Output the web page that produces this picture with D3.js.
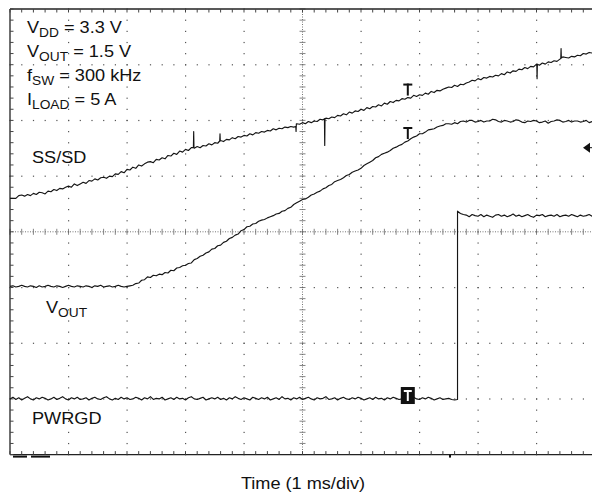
<!DOCTYPE html>
<html><head><meta charset="utf-8">
<script src="https://cdn.jsdelivr.net/npm/d3@7"></script>
<style>
body{margin:0;background:#fff}
text{font-family:"Liberation Sans",Arial,Helvetica,sans-serif;fill:#111}
</style></head>
<body><svg id="c" width="592" height="495"></svg>
<script>
// ---- data (y in scope divisions from centre, x in time divisions, 1 ms/div) ----
const sampleStep = 0.05;
const ssValues = [
 0.60,0.60,0.60,0.65,0.66,0.64,0.67,0.65,0.69,0.67,
 0.71,0.70,0.68,0.73,0.72,0.76,0.74,0.78,0.77,0.80,
 0.82,0.80,0.86,0.83,0.86,0.89,0.87,0.92,0.91,0.95,
 0.93,0.97,0.98,0.96,1.00,0.99,1.04,1.03,1.08,1.06,
 1.12,1.11,1.16,1.14,1.20,1.18,1.22,1.25,1.26,1.24,
 1.30,1.29,1.33,1.31,1.37,1.36,1.41,1.39,1.45,1.43,
 1.48,1.46,1.51,1.50,1.53,1.51,1.55,1.54,1.58,1.56,
 1.60,1.59,1.64,1.62,1.66,1.65,1.69,1.67,1.71,1.70,
 1.73,1.72,1.76,1.74,1.78,1.77,1.80,1.79,1.82,1.81,
 1.85,1.83,1.86,1.85,1.88,1.87,1.89,1.88,1.94,1.93,
 1.96,1.94,1.98,1.96,1.99,1.98,2.02,2.01,2.04,2.03,
 2.06,2.05,2.09,2.08,2.12,2.10,2.15,2.13,2.17,2.16,
 2.20,2.18,2.23,2.21,2.25,2.24,2.28,2.26,2.31,2.29,
 2.34,2.32,2.36,2.35,2.39,2.38,2.41,2.40,2.45,2.43,
 2.46,2.45,2.49,2.47,2.52,2.50,2.54,2.53,2.56,2.58,
 2.60,2.59,2.63,2.61,2.65,2.64,2.67,2.69,2.72,2.71,
 2.75,2.73,2.77,2.76,2.79,2.78,2.81,2.80,2.84,2.82,
 2.87,2.85,2.89,2.88,2.92,2.91,2.95,2.93,2.97,2.96,
 3.01,2.99,3.03,3.01,3.05,3.04,3.07,3.06,3.10,3.14,
 3.13,3.12,3.15,3.14,3.17,3.16,3.20,3.19,3.22,3.21,
 3.24];
const ssSpikes = [
 [3.135,1.51],[3.14,1.80],[3.145,1.51],
 [3.585,1.63],[3.59,1.76],[3.595,1.63],
 [4.885,1.89],[4.89,1.80],[4.895,1.94],
 [5.375,2.03],[5.38,1.55],[5.385,2.03],
 [9.005,3.01],[9.01,2.75],[9.015,3.01],
 [9.415,3.11],[9.42,3.29],[9.425,3.12]];
const voutValues = [
 -0.98,-0.97,-0.99,-0.98,-0.96,-0.98,-0.99,-0.97,-0.98,-1.00,
 -0.97,-0.99,-0.98,-0.96,-0.98,-0.99,-0.97,-0.98,-1.00,-0.98,
 -0.96,-0.98,-0.99,-0.97,-0.98,-0.99,-0.97,-0.98,-1.00,-0.97,
 -0.98,-0.96,-0.99,-0.98,-0.97,-0.99,-0.98,-0.96,-0.98,-0.99,
 -0.98,-0.97,-0.96,-0.93,-0.92,-0.87,-0.86,-0.81,-0.82,-0.78,
 -0.79,-0.76,-0.77,-0.73,-0.74,-0.69,-0.70,-0.65,-0.64,-0.61,
 -0.60,-0.57,-0.56,-0.50,-0.48,-0.44,-0.42,-0.38,-0.36,-0.31,
 -0.30,-0.25,-0.24,-0.19,-0.17,-0.12,-0.10,-0.06,-0.04,0.02,
 0.04,0.09,0.10,0.14,0.15,0.19,0.21,0.22,0.25,0.27,
 0.29,0.32,0.33,0.37,0.38,0.42,0.44,0.49,0.52,0.55,
 0.58,0.59,0.62,0.66,0.68,0.71,0.73,0.77,0.79,0.83,
 0.85,0.90,0.92,0.94,0.97,1.01,1.03,1.07,1.09,1.11,
 1.14,1.19,1.22,1.25,1.28,1.33,1.35,1.39,1.41,1.43,
 1.46,1.50,1.52,1.55,1.57,1.61,1.63,1.67,1.70,1.72,
 1.76,1.76,1.79,1.83,1.84,1.85,1.88,1.90,1.91,1.94,
 1.94,1.93,1.96,1.94,1.98,1.99,1.97,2.00,2.00,1.97,
 1.98,2.00,1.97,1.99,1.99,2.02,2.01,1.98,1.97,2.00,
 1.99,1.97,1.98,2.01,2.00,1.97,1.96,1.99,1.98,2.00,
 1.99,1.96,1.97,1.99,1.95,1.98,1.99,2.01,2.00,1.97,
 1.98,2.00,1.97,1.99,1.99,1.97,1.98,2.00,1.96,1.98,
 1.97];
const pgLowValues = [
 -3.00,-2.97,-3.01,-2.98,-3.02,-2.99,-2.96,-3.00,-3.02,-2.98,
 -3.00,-2.97,-2.99,-3.02,-3.00,-2.97,-3.01,-2.99,-2.96,-3.00,
 -3.02,-2.98,-3.00,-2.97,-3.01,-3.00,-2.98,-3.02,-2.99,-2.97,
 -3.00,-3.01,-2.98,-2.96,-3.00,-3.02,-2.99,-3.01,-2.97,-3.00,
 -2.98,-3.01,-3.00,-2.97,-2.99,-3.02,-2.98,-3.00,-2.96,-3.01,
 -2.99,-3.00,-2.97,-3.02,-3.00,-2.98,-3.01,-2.97,-3.00,-2.99,
 -3.02,-2.98,-2.96,-3.00,-3.01,-2.99,-2.97,-3.02,-3.00,-2.98,
 -3.00,-2.97,-3.01,-2.99,-3.02,-2.98,-3.00,-2.96,-2.99,-3.01,
 -2.98,-3.00,-3.02,-2.97,-2.99,-3.01,-2.98,-3.00,-2.97,-3.02,
 -3.00,-2.98,-3.01,-2.96,-3.00,-2.99,-3.02,-2.98,-3.00,-2.97,
 -3.01,-2.99,-2.97,-3.00,-3.02,-2.98,-3.00,-2.99,-2.96,-3.01,
 -3.00,-2.98,-3.02,-2.99,-2.97,-3.00,-3.01,-2.98,-3.00,-2.97,
 -2.99,-3.02,-3.00,-2.98,-3.01,-2.97,-3.00,-2.99,-3.02,-2.98,
 -3.00,-2.97,-2.99,-3.01,-3.00,-2.98,-3.02,-2.99,-2.97,-3.00,
 -3.01,-2.98,-3.00,-2.97,-2.99,-3.02,-3.00,-2.98,-3.01,-3.00,
 -2.99,-3.01,-3.02];
const pgEdge = [[7.65,-3.01],[7.65,0.37]];
const pgHighStart = 7.7;
const pgHighValues = [
 0.33,0.31,0.30,0.27,0.31,0.29,0.28,0.31,0.27,0.30,
 0.28,0.26,0.30,0.31,0.28,0.30,0.27,0.29,0.32,0.28,
 0.30,0.27,0.29,0.31,0.28,0.26,0.30,0.29,0.31,0.27,
 0.29,0.30,0.28,0.31,0.27,0.29,0.30,0.28,0.31,0.29,
 0.27,0.30,0.28,0.29,0.31,0.28,0.29];
const triggerTime = 6.8;
const triggerLevel = 1.51;
const conditions = [["V","DD"," = 3.3 V"],["V","OUT"," = 1.5 V"],["f","SW"," = 300 kHz"],["I","LOAD"," = 5 A"]];
const xLabel = "Time (1 ms/div)";

// ---- scales ----
const svg = d3.select("#c");
const x = d3.scaleLinear().domain([0,10]).range([10,595]);
const y = d3.scaleLinear().domain([-4,4]).range([454.6,9]);
const minorX = d3.range(0,10.001,0.2), minorY = d3.range(-4,4.001,0.2);

// ---- graticule ----
const g = svg.append("g");
[1,2,3,4,6,7,8,9].forEach(t=>{
  minorY.forEach(v=>g.append("rect").attr("x",x(t)-0.5).attr("y",y(v)-0.5).attr("width",1.2).attr("height",1.2).attr("fill","#555"));
});
[-3,-2,-1,1,2,3].forEach(v=>{
  minorX.forEach(t=>g.append("rect").attr("x",x(t)-0.5).attr("y",y(v)-0.5).attr("width",1.2).attr("height",1.2).attr("fill","#555"));
});
g.append("line").attr("x1",x(5)).attr("x2",x(5)).attr("y1",y(4)).attr("y2",y(-4)).attr("stroke","#777").attr("stroke-dasharray","1,1.5");
g.append("line").attr("x1",x(0)).attr("x2",x(10)).attr("y1",y(0)).attr("y2",y(0)).attr("stroke","#777").attr("stroke-dasharray","1,1.5");
minorY.forEach(v=>g.append("line").attr("x1",x(5)-3).attr("x2",x(5)+3).attr("y1",y(v)).attr("y2",y(v)).attr("stroke","#666").attr("stroke-width",0.8));
minorX.forEach(t=>g.append("line").attr("x1",x(t)).attr("x2",x(t)).attr("y1",y(0)-3).attr("y2",y(0)+3).attr("stroke","#666").attr("stroke-width",0.8));
g.append("line").attr("x1",x(0)).attr("x2",x(0)).attr("y1",y(4)).attr("y2",y(-4)).attr("stroke","#222").attr("stroke-width",1.3);
g.append("line").attr("x1",x(0)).attr("x2",x(10)).attr("y1",y(4)).attr("y2",y(4)).attr("stroke","#222").attr("stroke-width",1.3);
g.append("line").attr("x1",x(0)).attr("x2",x(10)).attr("y1",y(-4)).attr("y2",y(-4)).attr("stroke","#222").attr("stroke-width",1.3);
minorX.forEach(t=>{
  g.append("line").attr("x1",x(t)).attr("x2",x(t)).attr("y1",y(4)).attr("y2",y(4)+3.5).attr("stroke","#444");
  g.append("line").attr("x1",x(t)).attr("x2",x(t)).attr("y1",y(-4)).attr("y2",y(-4)-3.5).attr("stroke","#444");
});
minorY.forEach(v=>g.append("line").attr("x1",x(0)).attr("x2",x(0)+3.5).attr("y1",y(v)).attr("y2",y(v)).attr("stroke","#444"));

// ---- traces ----
const line = d3.line().x(d=>x(d[0])).y(d=>y(d[1]));
const ssData = ssValues.map((v,i)=>[i*sampleStep,v]).concat(ssSpikes).sort((a,b)=>a[0]-b[0]);
const voutData = voutValues.map((v,i)=>[i*sampleStep,v]);
const pgData = pgLowValues.map((v,i)=>[i*sampleStep,v]).concat(pgEdge).concat(pgHighValues.map((v,i)=>[pgHighStart+i*sampleStep,v]));
[ssData,voutData,pgData].forEach(d=>svg.append("path").datum(d).attr("d",line).attr("fill","none").attr("stroke","#151515").attr("stroke-width",1.15).attr("stroke-linejoin","round"));

// ---- trigger markers ----
function valAt(arr,t){return arr[Math.round(t/sampleStep)];}
const tx = x(triggerTime);
[valAt(ssValues,triggerTime), valAt(voutValues,triggerTime)].forEach(v=>{
  const ty=y(v);
  svg.append("rect").attr("x",tx-4.5).attr("y",ty-14).attr("width",9).attr("height",2).attr("fill","#111");
  svg.append("rect").attr("x",tx-1).attr("y",ty-14).attr("width",2).attr("height",12).attr("fill","#111");
});
{
  const ty=y(valAt(pgLowValues,triggerTime));
  svg.append("rect").attr("x",tx-7).attr("y",ty-13).attr("width",14).attr("height",17).attr("fill","#111");
  svg.append("rect").attr("x",tx-4).attr("y",ty-10).attr("width",8).attr("height",2).attr("fill","#fff");
  svg.append("rect").attr("x",tx-1).attr("y",ty-10).attr("width",2).attr("height",11).attr("fill","#fff");
}
{
  const ly=y(triggerLevel);
  svg.append("path").attr("d",`M583,${ly} L590,${ly-5} L590,${ly+5} Z`).attr("fill","#111");
  svg.append("line").attr("x1",589).attr("x2",592).attr("y1",ly).attr("y2",ly).attr("stroke","#111");
}
svg.append("rect").attr("x",13).attr("y",y(-4)+1).attr("width",14).attr("height",2).attr("fill","#111");
svg.append("rect").attr("x",31).attr("y",y(-4)+1).attr("width",19).attr("height",2).attr("fill","#111");
svg.append("rect").attr("x",449).attr("y",y(-4)).attr("width",2).attr("height",3).attr("fill","#111");

// ---- text ----
function label(xp,yp,main,s,rest,anchor){
  const t=svg.append("text").attr("transform",`translate(${xp},${yp}) scale(1.1,1)`).attr("font-size",16.5);
  if(anchor) t.attr("text-anchor",anchor);
  t.append("tspan").text(main);
  if(s){t.append("tspan").attr("font-size",12.5).attr("dy",4).text(s);
  t.append("tspan").attr("dy",-4).text(rest||"");}
}
conditions.forEach((c,i)=>label(27,33+i*24,c[0],c[1],c[2]));
label(32,163,"SS/SD");
label(46,313,"V","OUT","");
label(32,424,"PWRGD");
label(303,489,xLabel,null,null,"middle");
</script></body></html>
